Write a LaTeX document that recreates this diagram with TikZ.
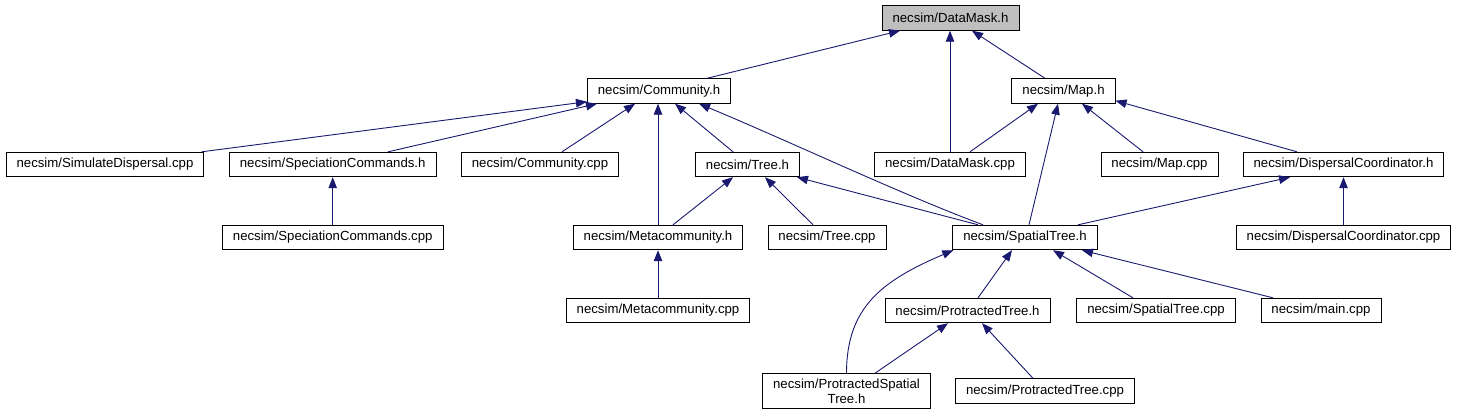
\documentclass[tikz,border=0pt]{standalone}
\usepackage{fontspec}
\setmainfont{Liberation Sans}
\usetikzlibrary{arrows.meta}
\definecolor{edgeblue}{RGB}{25,25,112}
\definecolor{rootgray}{RGB}{191,191,191}
\begin{document}
\begin{tikzpicture}[x=1pt,y=1pt,
  file/.style={draw=black,line width=0.9pt,fill=white,inner xsep=10.5pt,inner ysep=5pt,
    minimum height=24.5pt,align=center,font=\fontsize{13.2}{15}\selectfont},
  rootfile/.style={file,fill=rootgray},
  edge/.style={draw=edgeblue,line width=0.9pt,-{Triangle[length=11pt,width=8.5pt]}}]
\useasboundingbox[fill=white] (0,0) rectangle (1458,-416);
% row 1
\node[rootfile] (dm) at (950.5,-18) {necsim/DataMask.h};
% row 2
\node[file] (com) at (659,-91) {necsim/Community.h};
\node[file] (map) at (1063.5,-91) {necsim/Map.h};
% row 3
\node[file] (sim) at (105,-164.5) {necsim/SimulateDispersal.cpp};
\node[file] (spc) at (332.7,-164.5) {necsim/SpeciationCommands.h};
\node[file] (comcpp) at (540,-164.5) {necsim/Community.cpp};
\node[file] (tree) at (747.5,-164.5) {necsim/Tree.h};
\node[file] (dmcpp) at (950,-164.5) {necsim/DataMask.cpp};
\node[file] (mapcpp) at (1159.5,-164.5) {necsim/Map.cpp};
\node[file] (dch) at (1343.5,-164.5) {necsim/DispersalCoordinator.h};
% row 4
\node[file] (spccpp) at (332.7,-237.5) {necsim/SpeciationCommands.cpp};
\node[file] (meta) at (658,-237.5) {necsim/Metacommunity.h};
\node[file] (treecpp) at (827,-237.5) {necsim/Tree.cpp};
\node[file] (st) at (1025,-237.5) {necsim/SpatialTree.h};
\node[file] (dccpp) at (1343.5,-237.5) {necsim/DispersalCoordinator.cpp};
% row 5
\node[file] (metacpp) at (658,-310.5) {necsim/Metacommunity.cpp};
\node[file] (pt) at (967.5,-310.5) {necsim/ProtractedTree.h};
\node[file] (stcpp) at (1156,-310.5) {necsim/SpatialTree.cpp};
\node[file] (main) at (1321,-310.5) {necsim/main.cpp};
% row 6
\node[file] (pst) at (846.5,-391) {necsim/ProtractedSpatial\\Tree.h};
\node[file] (ptcpp) at (1045,-391) {necsim/ProtractedTree.cpp};
% edges
\draw[edge] ([xshift=48]com.north) -- ([xshift=-50.5]dm.south);
\draw[edge] (dmcpp.north) -- (dmcpp.north |- dm.south);
\draw[edge] ([xshift=-18.5]map.north) -- ([xshift=21.5]dm.south);
\draw[edge] ([xshift=96.7]sim.north) -- ([yshift=2]com.south west);
\draw[edge] ([xshift=55.3]spc.north) -- ([xshift=-62]com.south);
\draw[edge] ([xshift=22]comcpp.north) -- ([xshift=-24]com.south);
\draw[edge] (meta.north) -- (meta.north |- com.south);
\draw[edge] ([xshift=-14.5]tree.north) -- ([xshift=16]com.south);
\draw[edge] ([xshift=-42]st.north) .. controls +(-83,31) and +(89,-37) .. ([xshift=40]com.south);
\draw[edge] ([xshift=20]dmcpp.north) -- ([xshift=-25.5]map.south);
\draw[edge] ([xshift=4]st.north) -- ([xshift=-5.5]map.south);
\draw[edge] ([xshift=-16.5]mapcpp.north) -- ([xshift=18.5]map.south);
\draw[edge] ([xshift=-46.5]dch.north) -- ([yshift=3]map.south east);
\draw[edge] (spccpp.north) -- (spccpp.north |- spc.south);
\draw[edge] ([xshift=15]meta.north) -- ([xshift=-14.5]tree.south);
\draw[edge] ([xshift=-14]treecpp.north) -- ([xshift=17.5]tree.south);
\draw[edge] ([xshift=-47]st.north) -- ([xshift=49.5]tree.south);
\draw[edge] ([xshift=53]st.north) -- ([xshift=-53.5]dch.south);
\draw[edge] (dccpp.north) -- (dccpp.north |- dch.south);
\draw[edge] (metacpp.north) -- (metacpp.north |- meta.south);
\draw[edge] ([xshift=10.5]pt.north) -- ([xshift=-13]st.south);
\draw[edge] ([xshift=-23]stcpp.north) -- ([xshift=28]st.south);
\draw[edge] ([xshift=-48]main.north) -- ([xshift=57]st.south);
\draw[edge] (pst.north) .. controls +(0,67) and +(-70,-30) .. ([xshift=1]st.south west);
\draw[edge] ([xshift=28.5]pst.north) -- ([xshift=-19.5]pt.south);
\draw[edge] ([xshift=-12]ptcpp.north) -- ([xshift=14.5]pt.south);
\end{tikzpicture}
\end{document}
